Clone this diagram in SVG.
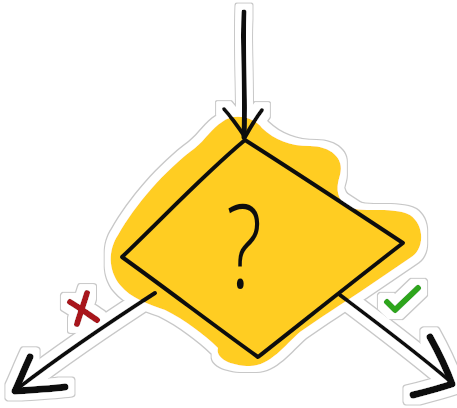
<svg xmlns="http://www.w3.org/2000/svg" width="457" height="408" viewBox="0 0 457 408">
<style>
.ink{fill:none;stroke:#111;stroke-linecap:round;stroke-linejoin:round}
.line{stroke-width:4}
.stem{stroke-width:5}
.head{stroke-width:7}
.blob{fill:#FFCD22}
.q{font-family:"Open Sans","DejaVu Sans",sans-serif;font-weight:300;font-size:116px;fill:#111}
.no{fill:none;stroke:#A8191C;stroke-width:6;stroke-linecap:round}
.yes{fill:none;stroke:#2EA51F;stroke-width:6;stroke-linecap:round;stroke-linejoin:round}
</style>
<defs>
<filter id="halo" x="-10%" y="-10%" width="120%" height="120%">
<feMorphology in="SourceAlpha" operator="dilate" radius="7" result="d1"/>
<feFlood flood-color="#c8c8c8"/>
<feComposite in2="d1" operator="in" result="grey"/>
<feMorphology in="SourceAlpha" operator="dilate" radius="6" result="d2"/>
<feFlood flood-color="#ffffff"/>
<feComposite in2="d2" operator="in" result="white"/>
<feMerge><feMergeNode in="grey"/><feMergeNode in="white"/><feMergeNode in="SourceGraphic"/></feMerge>
</filter>
</defs>
<g filter="url(#halo)">
<g id="decision">
<path class="blob" d="M 222 122 C 235 112, 255 118, 262 128 C 275 140, 290 146, 310 146 C 330 146, 345 158, 340 175 C 337 185, 335 195, 345 205 C 360 215, 390 205, 410 215 C 425 225, 425 250, 410 258 L 360 292 C 345 302, 320 318, 300 332 C 285 345, 270 366, 250 366 C 230 366, 215 358, 218 348 C 205 335, 185 320, 165 310 C 150 305, 130 298, 120 285 C 108 270, 108 250, 118 235 C 135 205, 165 170, 195 148 C 205 140, 212 128, 222 122 Z"/>
<path class="ink line" d="M 245 140 C 300 175, 350 208, 403 243 C 355 280, 305 320, 258 357 C 212 324, 168 290, 122 257 C 163 218, 203 175, 245 140 Z"/>
<text class="q" transform="translate(244 288) scale(0.74 1)" text-anchor="middle">?</text>
</g>
<g id="connectors">
<path class="ink stem" d="M 244 12 C 242 50, 246 90, 244 137"/>
<path class="ink line" d="M 224 109 C 232 118, 239 128, 245 137 C 250 128, 256 118, 262 110"/>
<path class="ink line" d="M 155 293 C 110 322, 60 356, 17 389"/>
<path class="ink head" d="M 30 357 C 24 370, 20 380, 15 391 C 30 390, 50 389, 65 387"/>
<path class="ink line" d="M 340 295 C 380 325, 420 355, 452 383"/>
<path class="ink head" d="M 430 337 C 440 355, 447 370, 452 384 C 440 388, 425 392, 413 395"/>
</g>
<g id="label-no">
<path class="no" d="M 70 302 C 80 308, 88 314, 97 320 M 87 293 C 84 303, 80 314, 77 324"/>
</g>
<g id="label-yes">
<path class="yes" d="M 387 302 L 395 310 L 418 288"/>
</g>
</g>
</svg>
